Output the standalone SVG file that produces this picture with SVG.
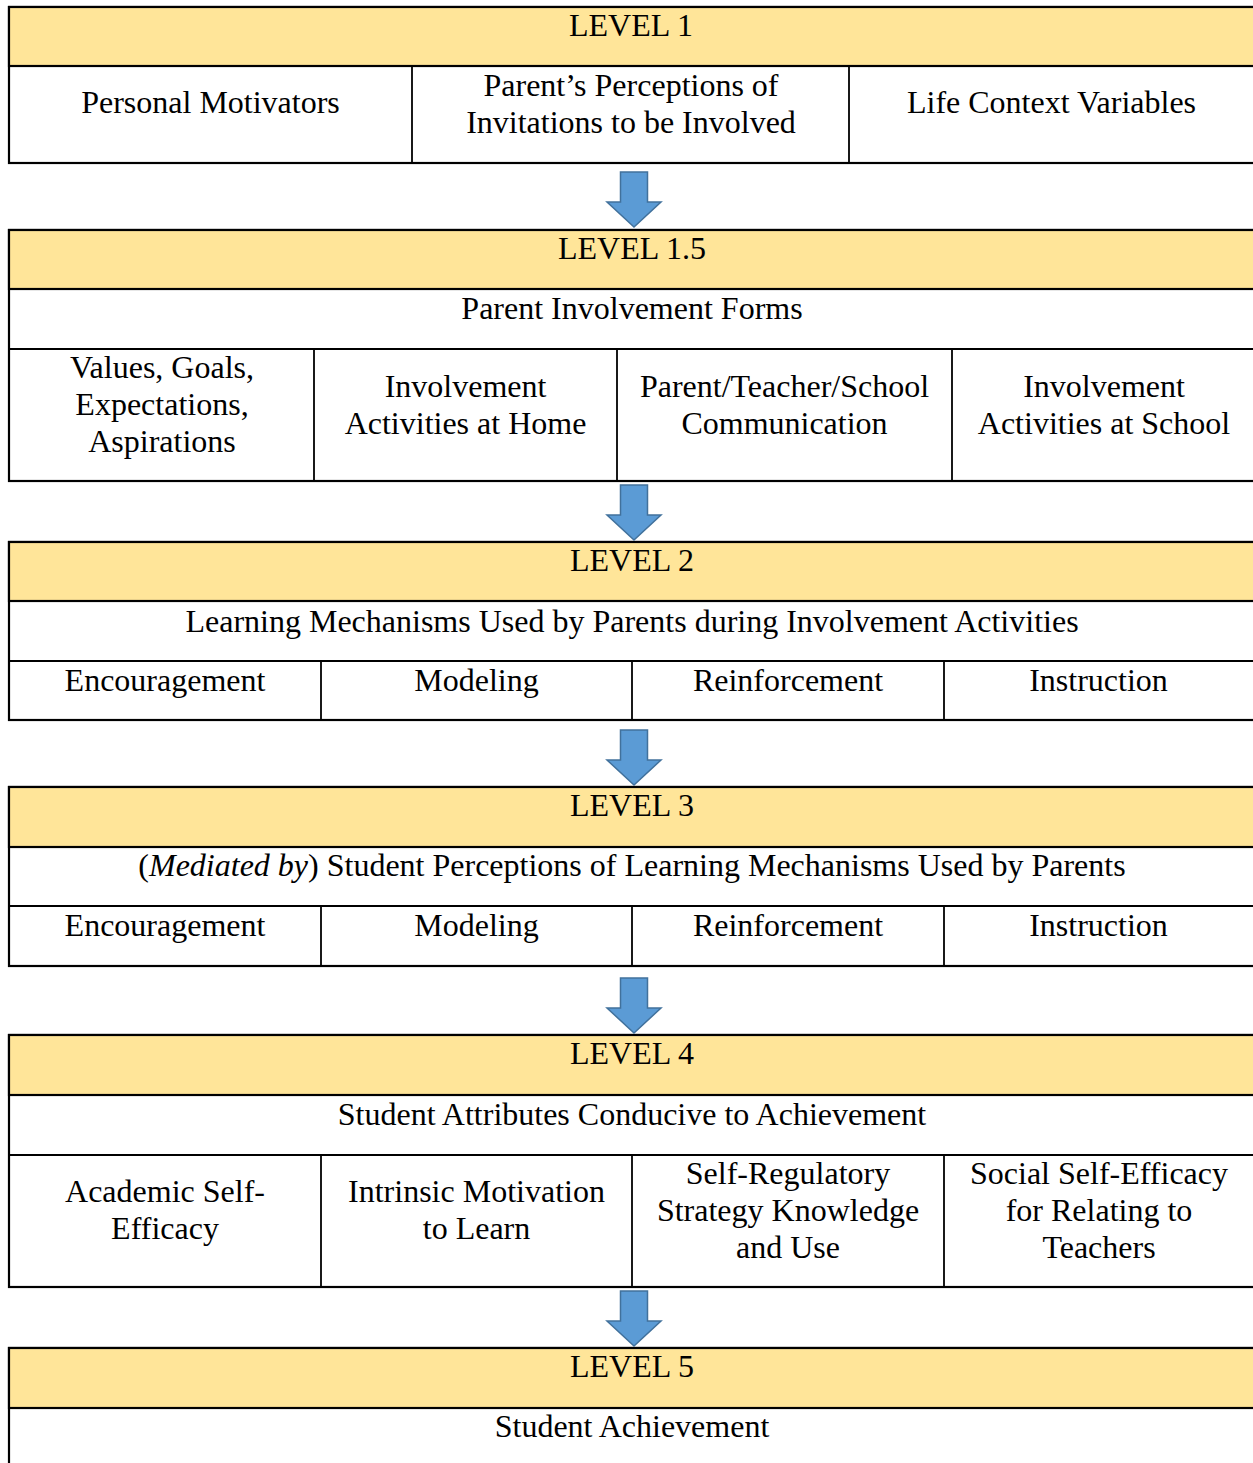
<svg xmlns="http://www.w3.org/2000/svg" width="1253" height="1463" viewBox="0 0 1253 1463">
<style>
.box{fill:#FFFFFF;stroke:#000;stroke-width:2.2}
.hdr{fill:#FFE599;stroke:#000;stroke-width:2.2}
.hl{stroke:#000;stroke-width:2.2}
.vl{stroke:#000;stroke-width:1.8}
text{font-family:"Liberation Serif","Times New Roman",serif;font-size:32px;fill:#000;text-anchor:middle}
.arr{fill:#5B9BD5;stroke:#41719C;stroke-width:1.5}
</style>
<defs>
<path id="arrow" class="arr" d="M-13.5,0 H13.5 V30 H27 L0,55 L-27,30 H-13.5 Z"/>
</defs>
<rect width="1253" height="1463" fill="#FFFFFF"/>

<g id="level1">
  <rect class="box" x="9" y="7" width="1250" height="156"/>
  <g id="level1-header"><rect class="hdr" x="9" y="7" width="1250" height="59"/><text x="631" y="36">LEVEL 1</text></g>
  <line class="vl" x1="412" y1="66" x2="412" y2="163"/>
  <line class="vl" x1="849" y1="66" x2="849" y2="163"/>
  <g id="personal-motivators"><text x="210.5" y="113">Personal Motivators</text></g>
  <g id="parent-perceptions"><text x="631" y="96">Parent’s Perceptions of</text><text x="631" y="133">Invitations to be Involved</text></g>
  <g id="life-context"><text x="1051.5" y="113">Life Context Variables</text></g>
</g>

<g id="level1-5">
  <rect class="box" x="9" y="230" width="1250" height="251"/>
  <g id="level1-5-header"><rect class="hdr" x="9" y="230" width="1250" height="59"/><text x="632" y="259">LEVEL 1.5</text></g>
  <g id="involvement-forms"><text x="632" y="319">Parent Involvement Forms</text></g>
  <line class="hl" x1="9" y1="349" x2="1259" y2="349"/>
  <line class="vl" x1="314" y1="349" x2="314" y2="481"/>
  <line class="vl" x1="617" y1="349" x2="617" y2="481"/>
  <line class="vl" x1="952" y1="349" x2="952" y2="481"/>
  <g id="values-goals"><text x="162" y="378">Values, Goals,</text><text x="162" y="415">Expectations,</text><text x="162" y="452">Aspirations</text></g>
  <g id="activities-home"><text x="465.5" y="397">Involvement</text><text x="465.5" y="434">Activities at Home</text></g>
  <g id="communication"><text x="784.5" y="397">Parent/Teacher/School</text><text x="784.5" y="434">Communication</text></g>
  <g id="activities-school"><text x="1104" y="397">Involvement</text><text x="1104" y="434">Activities at School</text></g>
</g>

<g id="level2">
  <rect class="box" x="9" y="542" width="1250" height="178"/>
  <g id="level2-header"><rect class="hdr" x="9" y="542" width="1250" height="59"/><text x="632" y="571">LEVEL 2</text></g>
  <g id="learning-mechanisms"><text x="632" y="632">Learning Mechanisms Used by Parents during Involvement Activities</text></g>
  <line class="hl" x1="9" y1="661" x2="1259" y2="661"/>
  <line class="vl" x1="321" y1="661" x2="321" y2="720"/>
  <line class="vl" x1="632" y1="661" x2="632" y2="720"/>
  <line class="vl" x1="944" y1="661" x2="944" y2="720"/>
  <g id="l2-encouragement"><text x="165" y="691">Encouragement</text></g>
  <g id="l2-modeling"><text x="476.5" y="691">Modeling</text></g>
  <g id="l2-reinforcement"><text x="788" y="691">Reinforcement</text></g>
  <g id="l2-instruction"><text x="1098.5" y="691">Instruction</text></g>
</g>

<g id="level3">
  <rect class="box" x="9" y="787" width="1250" height="179"/>
  <g id="level3-header"><rect class="hdr" x="9" y="787" width="1250" height="60"/><text x="632" y="816">LEVEL 3</text></g>
  <g id="student-perceptions"><text x="632" y="876">(<tspan font-style="italic">Mediated by</tspan>) Student Perceptions of Learning Mechanisms Used by Parents</text></g>
  <line class="hl" x1="9" y1="906" x2="1259" y2="906"/>
  <line class="vl" x1="321" y1="906" x2="321" y2="966"/>
  <line class="vl" x1="632" y1="906" x2="632" y2="966"/>
  <line class="vl" x1="944" y1="906" x2="944" y2="966"/>
  <g id="l3-encouragement"><text x="165" y="936">Encouragement</text></g>
  <g id="l3-modeling"><text x="476.5" y="936">Modeling</text></g>
  <g id="l3-reinforcement"><text x="788" y="936">Reinforcement</text></g>
  <g id="l3-instruction"><text x="1098.5" y="936">Instruction</text></g>
</g>

<g id="level4">
  <rect class="box" x="9" y="1035" width="1250" height="252"/>
  <g id="level4-header"><rect class="hdr" x="9" y="1035" width="1250" height="60"/><text x="632" y="1064">LEVEL 4</text></g>
  <g id="student-attributes"><text x="632" y="1125">Student Attributes Conducive to Achievement</text></g>
  <line class="hl" x1="9" y1="1155" x2="1259" y2="1155"/>
  <line class="vl" x1="321" y1="1155" x2="321" y2="1287"/>
  <line class="vl" x1="632" y1="1155" x2="632" y2="1287"/>
  <line class="vl" x1="944" y1="1155" x2="944" y2="1287"/>
  <g id="academic-self-efficacy"><text x="165" y="1202">Academic Self-</text><text x="165" y="1239">Efficacy</text></g>
  <g id="intrinsic-motivation"><text x="476.5" y="1202">Intrinsic Motivation</text><text x="476.5" y="1239">to Learn</text></g>
  <g id="self-regulatory"><text x="788" y="1184">Self-Regulatory</text><text x="788" y="1221">Strategy Knowledge</text><text x="788" y="1258">and Use</text></g>
  <g id="social-self-efficacy"><text x="1099" y="1184">Social Self-Efficacy</text><text x="1099" y="1221">for Relating to</text><text x="1099" y="1258">Teachers</text></g>
</g>

<g id="level5">
  <rect class="box" x="9" y="1348" width="1250" height="130"/>
  <g id="level5-header"><rect class="hdr" x="9" y="1348" width="1250" height="60"/><text x="632" y="1377">LEVEL 5</text></g>
  <g id="student-achievement"><text x="632" y="1437">Student Achievement</text></g>
</g>

<g id="connectors">
  <use href="#arrow" x="634" y="172"/>
  <use href="#arrow" x="634" y="485"/>
  <use href="#arrow" x="634" y="730"/>
  <use href="#arrow" x="634" y="978"/>
  <use href="#arrow" x="634" y="1291"/>
</g>
</svg>
